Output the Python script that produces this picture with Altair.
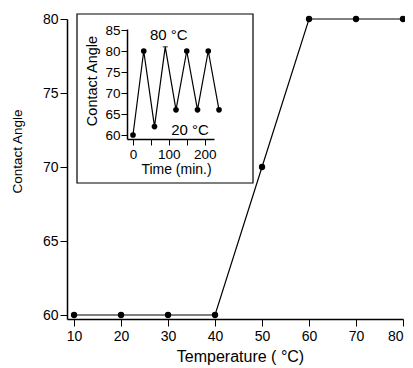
import altair as alt
import pandas as pd

# Main chart data
temperature = [10, 20, 30, 40, 50, 60, 70, 80]
contact_angle = [60, 60, 60, 60, 70, 80, 80, 80]

# Inset data (cycling between 20 and 80 C)
time_min = [0, 30, 60, 90, 120, 150, 180, 210, 240]
cycle_angle = [60, 80, 62, 81, 66, 80, 66, 80, 66]
has_marker = [True, True, True, False, True, True, True, True, True]

# Inset annotations
ann_text = ["80 °C", "20 °C"]
ann_time = [100, 159]
ann_angle = [83.8, 61.2]

FONT = "Liberation Sans"

main_df = pd.DataFrame({"T": temperature, "A": contact_angle})
inset_df = pd.DataFrame({"t": time_min, "A": cycle_angle, "m": has_marker})
ann_df = pd.DataFrame({"label": ann_text, "t": ann_time, "A": ann_angle})

mx = alt.X("T:Q", scale=alt.Scale(domain=[8.5, 80], nice=False, zero=False),
           axis=alt.Axis(values=temperature, title="Temperature ( °C)", grid=False,
                         tickSize=7, tickColor="black", domainColor="black",
                         domainWidth=1.5, labelFontSize=14, titleFontSize=16,
                         labelColor="black", titleColor="black", titleFontWeight="normal",
                         labelFont=FONT, titleFont=FONT, titlePadding=5, labelPadding=3,
                         titleX=173))
my = alt.Y("A:Q", scale=alt.Scale(domain=[59.73, 80], nice=False, zero=False),
           axis=alt.Axis(values=[60, 65, 70, 75, 80], title="Contact Angle", grid=False,
                         tickSize=7, tickColor="black", domainColor="black",
                         domainWidth=1.5, labelFontSize=14, titleFontSize=13.5,
                         labelColor="black", titleColor="black", titleFontWeight="normal",
                         labelFont=FONT, titleFont=FONT, labelPadding=2,
                         titleX=-50, titleY=132, titleBaseline="middle"))

main_line = alt.Chart(main_df).mark_line(color="black", strokeWidth=1.2, clip=False).encode(x=mx, y=my)
main_pts = alt.Chart(main_df).mark_point(filled=True, color="black", size=40, opacity=1, clip=False).encode(x=mx, y=my)
main_layer = alt.layer(main_line, main_pts)

# Inset box (decoration)
box = alt.Chart(pd.DataFrame({"d": [0]})).mark_rect(fill="white", stroke="black", strokeWidth=1.2).encode(
    x=alt.value(10), x2=alt.value(186), y=alt.value(-5), y2=alt.value(164))

ix_scale = alt.Scale(domain=[-16.7, 226], range=[60, 147], nice=False, zero=False)
iy_scale = alt.Scale(domain=[59.05, 85.24], range=[120, 10], nice=False, zero=False)

ix = alt.X("t:Q", scale=ix_scale,
           axis=alt.Axis(orient="bottom", offset=-180, values=[0, 50, 100, 150, 200],
                         labelExpr="datum.value % 100 == 0 ? datum.label : ''",
                         title="Time (min.)", grid=False, tickSize=6, tickColor="black",
                         domainColor="black", domainWidth=1.5, labelFontSize=13.5,
                         titleFontSize=14, labelColor="black", titleColor="black",
                         titleFontWeight="normal", labelFont=FONT, titleFont=FONT,
                         labelPadding=2, titleX=109, titleY=23, titleBaseline="top",
                         zindex=2))
iy = alt.Y("A:Q", scale=iy_scale,
           axis=alt.Axis(orient="left", offset=-60, values=[60, 65, 70, 75, 80, 85],
                         title="Contact Angle", grid=False, tickSize=6, tickColor="black",
                         domainColor="black", domainWidth=1.5, labelFontSize=13.5,
                         titleFontSize=14.5, labelColor="black", titleColor="black",
                         titleFontWeight="normal", labelFont=FONT, titleFont=FONT,
                         labelPadding=1, titleX=-35, titleY=61.5, titleBaseline="middle",
                         zindex=2))

inset_line = alt.Chart(inset_df).mark_line(color="black", strokeWidth=1.2, clip=False).encode(x=ix, y=iy)
inset_pts = alt.Chart(inset_df).transform_filter("datum.m").mark_point(
    filled=True, color="black", size=32, opacity=1, clip=False).encode(x=ix, y=iy)
inset_cap = alt.Chart(inset_df).transform_filter("!datum.m").mark_tick(
    color="black", orient="horizontal", size=5, thickness=1.2).encode(x=ix, y=iy)
inset_txt = alt.Chart(ann_df).mark_text(font=FONT, fontSize=15, color="black").encode(
    x=ix, y=iy, text="label:N")

inset_layer = alt.layer(box, inset_line, inset_pts, inset_cap, inset_txt)

chart = alt.layer(main_layer, inset_layer).resolve_scale(
    x="independent", y="independent"
).properties(
    width=336, height=300,
    autosize=alt.AutoSizeParams(type="none"),
    padding={"left": 59, "top": 11, "right": 2, "bottom": 49},
    background="white",
).configure_view(stroke=None)

chart.save("out.html", embed_options={"renderer": "svg", "actions": False})
